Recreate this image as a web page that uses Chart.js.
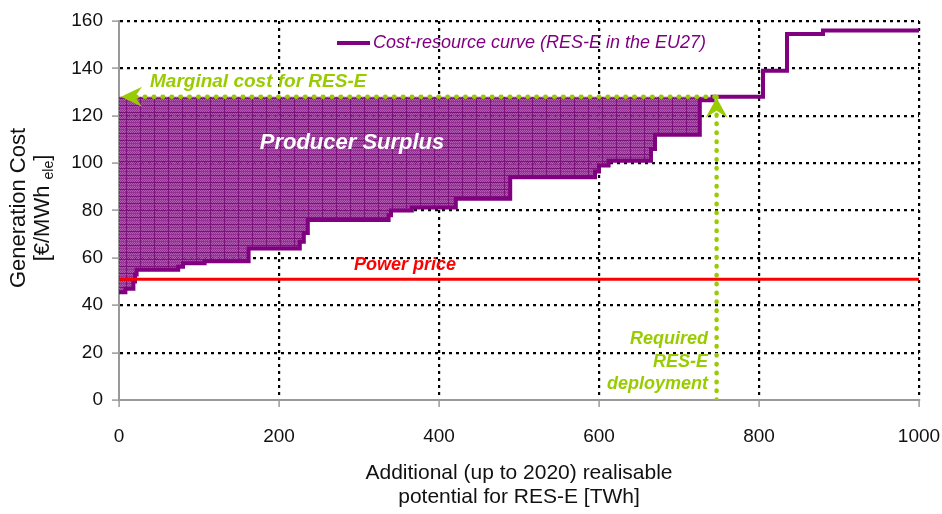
<!DOCTYPE html>
<html>
<head>
<meta charset="utf-8">
<script src="https://cdn.jsdelivr.net/npm/chart.js@4/dist/chart.umd.min.js"></script>
<style>
  html, body { margin: 0; padding: 0; background: #fff; }
  canvas { display: block; }
</style>
</head>
<body>
<canvas id="chart" width="942" height="514"></canvas>
<script>
// Cost-resource curve (RES-E in the EU27), step start points and cost levels
const stepX = [0, 8, 18, 20, 22, 74, 80, 107, 162, 226, 231, 236, 337, 340, 366, 421, 489, 595, 600, 612, 665, 670, 726, 742, 805, 835, 880, 1000];
const stepCost = [45.5, 47, 50, 53, 55, 56.3, 57.7, 58.6, 64, 66.8, 70.5, 76, 78, 80, 81.3, 85, 94, 96.5, 99, 101, 106, 112, 126.5, 128, 139, 154.5, 156, 156];

const powerPrice = 51;
const marginalCost = 128;
const requiredDeployment = 747;

const xTicks = [0, 200, 400, 600, 800, 1000];
const yTicks = [0, 20, 40, 60, 80, 100, 120, 140, 160];

const purple = '#800080';
const green = '#99cc00';
const fontFamily = '"Liberation Sans", Arial, sans-serif';

Chart.defaults.font.family = fontFamily;

var ctx = document.getElementById('chart').getContext('2d');

// hatched purple texture for the producer surplus area
function makePattern(target) {
  const c = document.createElement('canvas');
  c.width = 14;
  c.height = 7;
  const g = c.getContext('2d');
  g.fillStyle = 'rgba(135, 28, 135, 0.9)';
  g.fillRect(0, 0, 14, 7);
  g.fillStyle = 'rgba(185, 105, 185, 0.75)';
  for (let i = 0; i < 14; i++) {
    for (let j = 1; j < 7; j++) {
      if ((i + j) % 2 === 0 && j !== 3) g.fillRect(i, j, 1, 1);
    }
  }
  g.fillStyle = 'rgba(120, 15, 120, 0.9)';
  g.fillRect(0, 0, 14, 1);
  g.fillRect(0, 0, 1, 7);
  return target.createPattern(c, 'repeat');
}

const curvePoints = stepX.map((v, i) => ({ x: v, y: stepCost[i] }));
const surplusPoints = curvePoints.filter(p => p.y <= marginalCost);

// texts, arrows, legend and axis titles
const annotations = {
  id: 'annotations',
  afterDatasetsDraw(chart) {
    const { ctx, chartArea, scales: { x, y } } = chart;
    const mY = y.getPixelForValue(marginalCost);
    const x0 = x.getPixelForValue(0);
    const rX = x.getPixelForValue(requiredDeployment);
    ctx.save();

    // left arrow head of the marginal cost line
    ctx.fillStyle = green;
    ctx.beginPath();
    ctx.moveTo(x0 + 2, mY);
    ctx.lineTo(x0 + 23, mY - 10);
    ctx.lineTo(x0 + 16, mY);
    ctx.lineTo(x0 + 23, mY + 10);
    ctx.closePath();
    ctx.fill();

    // up arrow head of required deployment line
    ctx.beginPath();
    ctx.moveTo(rX, mY + 1);
    ctx.lineTo(rX - 11, mY + 21);
    ctx.lineTo(rX, mY + 14);
    ctx.lineTo(rX + 11, mY + 21);
    ctx.closePath();
    ctx.fill();

    ctx.textBaseline = 'middle';
    ctx.font = 'italic bold 19px ' + fontFamily;
    ctx.textAlign = 'left';
    ctx.fillText('Marginal cost for RES-E', 150, 82);

    ctx.font = 'italic bold 18px ' + fontFamily;
    ctx.textAlign = 'right';
    ctx.fillText('Required', 708, 339);
    ctx.fillText('RES-E', 708, 362);
    ctx.fillText('deployment', 708, 384);

    ctx.fillStyle = '#ff0000';
    ctx.textAlign = 'center';
    ctx.fillText('Power price', 405, 265);

    ctx.fillStyle = '#ffffff';
    ctx.font = 'italic bold 22px ' + fontFamily;
    ctx.fillText('Producer Surplus', 352, 143);

    // legend
    ctx.strokeStyle = purple;
    ctx.lineWidth = 4;
    ctx.beginPath();
    ctx.moveTo(337, 43);
    ctx.lineTo(370, 43);
    ctx.stroke();
    ctx.fillStyle = purple;
    ctx.font = 'italic 18px ' + fontFamily;
    ctx.textAlign = 'left';
    ctx.fillText('Cost-resource curve (RES-E in the EU27)', 373, 43);

    // x axis title
    ctx.fillStyle = '#111';
    ctx.font = '21px ' + fontFamily;
    ctx.textAlign = 'center';
    const cx = (chartArea.left + chartArea.right) / 2;
    ctx.fillText('Additional (up to 2020) realisable', cx, 473);
    ctx.fillText('potential for RES-E [TWh]', cx, 497);

    // y axis title (rotated, with subscript)
    ctx.translate(0, 208);
    ctx.rotate(-Math.PI / 2);
    ctx.textBaseline = 'alphabetic';
    ctx.font = '22px ' + fontFamily;
    ctx.fillText('Generation Cost', 0, 25);
    const p1 = '[€/MWh ', p2 = 'ele', p3 = ']';
    ctx.textAlign = 'left';
    const w1 = ctx.measureText(p1).width;
    const w3 = ctx.measureText(p3).width;
    ctx.font = '14px ' + fontFamily;
    const w2 = ctx.measureText(p2).width;
    let sx = -(w1 + w2 + w3) / 2;
    ctx.font = '22px ' + fontFamily;
    ctx.fillText(p1, sx, 49);
    ctx.font = '14px ' + fontFamily;
    ctx.fillText(p2, sx + w1, 53);
    ctx.font = '22px ' + fontFamily;
    ctx.fillText(p3, sx + w1 + w2, 49);

    ctx.restore();
  }
};

const gridStyle = {
  color: c => (c.tick && c.tick.value === 0 ? 'rgba(0,0,0,0)' : '#000'),
  lineWidth: 2.2,
  tickColor: '#999',
  tickWidth: 1.5,
  tickBorderDash: [],
  tickLength: 7
};

const borderStyle = { color: '#999', width: 2, dash: [3, 4] };

new Chart(ctx, {
  type: 'line',
  data: {
    datasets: [
      {
        label: 'Cost-resource curve (RES-E in the EU27)',
        data: curvePoints,
        borderColor: purple,
        borderWidth: 4,
        stepped: 'before',
        pointRadius: 0,
        fill: false,
        order: 3
      },
      {
        label: 'Producer Surplus',
        data: surplusPoints,
        borderColor: 'transparent',
        borderWidth: 0,
        stepped: 'before',
        pointRadius: 0,
        backgroundColor: makePattern(ctx),
        fill: { value: marginalCost },
        order: 5
      },
      {
        label: 'Power price',
        data: [{ x: 0, y: powerPrice }, { x: 1000, y: powerPrice }],
        borderColor: '#ff0000',
        borderWidth: 3,
        pointRadius: 0,
        fill: false,
        order: 2
      },
      {
        label: 'Marginal cost for RES-E',
        data: [{ x: 10, y: marginalCost }, { x: requiredDeployment, y: marginalCost }],
        borderColor: green,
        borderWidth: 4.5,
        borderDash: [0.5, 8.4],
        borderCapStyle: 'round',
        pointRadius: 0,
        fill: false,
        order: 1
      },
      {
        label: 'Required RES-E deployment',
        data: [{ x: requiredDeployment, y: 0 }, { x: requiredDeployment, y: marginalCost }],
        borderColor: green,
        borderWidth: 4.5,
        borderDash: [0.5, 8.4],
        borderCapStyle: 'round',
        pointRadius: 0,
        fill: false,
        order: 1
      }
    ]
  },
  options: {
    responsive: false,
    animation: false,
    events: [],
    layout: { padding: { left: 0, top: 21, right: 23, bottom: 0 } },
    plugins: {
      legend: { display: false },
      tooltip: { enabled: false }
    },
    scales: {
      x: {
        type: 'linear',
        min: 0,
        max: 1000,
        afterBuildTicks: s => { s.ticks = xTicks.map(v => ({ value: v })); },
        afterFit: s => { s.height = 114; s.paddingLeft = 0; s.paddingRight = 0; },
        ticks: { color: '#111', font: { size: 19 }, padding: 18, maxRotation: 0, callback: v => String(v) },
        grid: gridStyle,
        border: borderStyle
      },
      y: {
        type: 'linear',
        min: 0,
        max: 160,
        afterBuildTicks: s => { s.ticks = yTicks.map(v => ({ value: v })); },
        afterFit: s => { s.width = 119; s.paddingTop = 0; s.paddingBottom = 0; },
        ticks: { color: '#111', font: { size: 19 }, padding: 9 },
        grid: gridStyle,
        border: borderStyle
      }
    }
  },
  plugins: [annotations]
});
</script>
</body>
</html>
